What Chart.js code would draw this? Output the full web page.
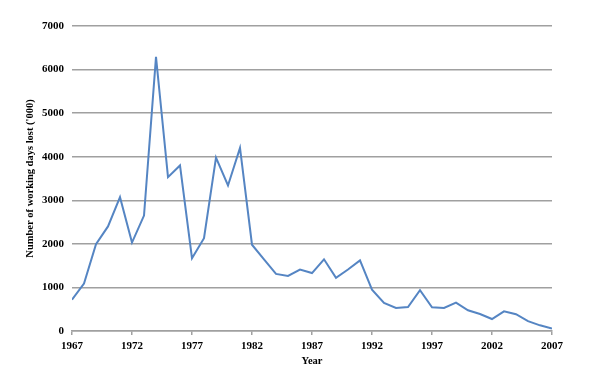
<!DOCTYPE html>
<html>
<head>
<meta charset="utf-8">
<script src="https://cdn.jsdelivr.net/npm/chart.js@4/dist/chart.umd.min.js"></script>
<style>
  html, body { margin: 0; padding: 0; background: #fff; }
  #wrap { width: 602px; height: 376px; position: relative; }
</style>
</head>
<body>
<div id="wrap"><canvas id="daysChart"></canvas></div>
<script>
const years = [
    1967, 1968, 1969, 1970, 1971, 1972, 1973, 1974, 1975, 1976,
    1977, 1978, 1979, 1980, 1981, 1982, 1983, 1984, 1985, 1986,
    1987, 1988, 1989, 1990, 1991, 1992, 1993, 1994, 1995, 1996,
    1997, 1998, 1999, 2000, 2001, 2002, 2003, 2004, 2005, 2006, 2007
];
const daysLost = [
    720, 1090, 1990, 2400, 3070, 2030, 2650, 6290, 3530, 3800,
    1670, 2130, 3980, 3340, 4200, 1980, 1645, 1310, 1265, 1410,
    1330, 1645, 1220, 1410, 1620, 950, 645, 530, 550, 935,
    545, 530, 650, 475, 390, 275, 450, 385, 225, 130, 55
];
const yTicks = [0, 1000, 2000, 3000, 4000, 5000, 6000, 7000];

const tickFont = { family: '"Liberation Serif", "Times New Roman", serif', size: 11, weight: 'bold' };
const titleFont = { family: '"Liberation Serif", "Times New Roman", serif', size: 10.5, weight: 'bold' };

function initDaysChart(canvasEl) {
    const ctx = canvasEl.getContext('2d');
    const points = years.map((y, i) => ({ x: y, y: daysLost[i] }));

    return new Chart(ctx, {
        type: 'line',
        data: {
            datasets: [{
                label: 'Working days lost',
                data: points,
                borderColor: '#5585c3',
                borderWidth: 2,
                pointRadius: 0,
                tension: 0,
                fill: false
            }]
        },
        options: {
            responsive: true,
            maintainAspectRatio: false,
            animation: false,
            layout: { padding: { left: 0, right: 50, top: 26, bottom: 0 } },
            plugins: {
                legend: { display: false },
                tooltip: { enabled: false }
            },
            scales: {
                x: {
                    type: 'linear',
                    min: years[0],
                    max: years[years.length - 1],
                    afterFit: s => { s.height = 45; },
                    ticks: {
                        stepSize: 5,
                        color: '#000',
                        font: tickFont,
                        padding: 5,
                        maxRotation: 0,
                        callback: v => String(v)
                    },
                    grid: { drawOnChartArea: false, tickLength: 4, color: '#a0a0a0', lineWidth: 1.5 },
                    border: { color: '#a0a0a0', width: 1.5 },
                    title: {
                        display: true,
                        text: 'Year',
                        color: '#000',
                        font: titleFont,
                        padding: { top: 0, bottom: 8.5 }
                    }
                },
                y: {
                    min: 0,
                    max: 7000,
                    afterFit: s => { s.width = 72; },
                    afterBuildTicks: s => { s.ticks = yTicks.map(v => ({ value: v })); },
                    ticks: {
                        color: '#000',
                        font: tickFont,
                        padding: 8,
                        callback: v => String(v)
                    },
                    grid: { color: '#a0a0a0', lineWidth: 1.5, tickLength: 0 },
                    border: { display: false },
                    title: {
                        display: true,
                        text: "Number of working days lost ('000)",
                        color: '#000',
                        font: titleFont,
                        padding: { top: 23.5, bottom: 0 }
                    }
                }
            }
        }
    });
}

document.addEventListener('DOMContentLoaded', function() {
    initDaysChart(document.getElementById('daysChart'));
});
</script>
</body>
</html>
